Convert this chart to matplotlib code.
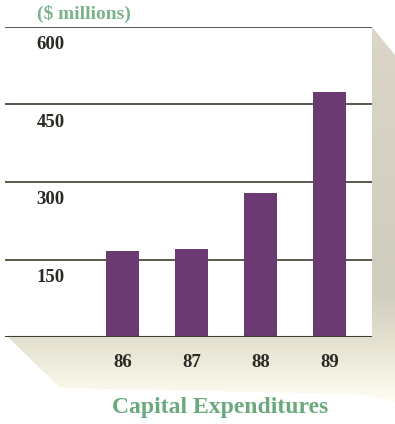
import numpy as np
import matplotlib
matplotlib.use("Agg")
import matplotlib.pyplot as plt
from matplotlib.patches import Polygon
from matplotlib.colors import LinearSegmentedColormap

years = ["86", "87", "88", "89"]
capex = [167, 170, 278, 474]
yticks = [150, 300, 450, 600]

W, H = 395, 424
fig = plt.figure(figsize=(W / 100, H / 100), dpi=100)
fig.patch.set_facecolor("white")

# background layer in pixel coordinates for the drop shadow
bg = fig.add_axes([0, 0, 1, 1])
bg.set_xlim(0, W)
bg.set_ylim(H, 0)
bg.axis("off")

shade = LinearSegmentedColormap.from_list(
    "shade", [(0.0, "#dbd6c7"), (0.7, "#cfccc0"), (0.84, "#e4e1d0"), (1.0, "#fffdf2")])
grad = np.linspace(0, 1, 256).reshape(-1, 1)
img = bg.imshow(grad, cmap=shade, extent=(0, W, 402, 27), aspect="auto", zorder=1)
shadow = Polygon([(8, 337), (372, 337), (372, 27), (395, 55), (395, 402),
                  (360, 394), (60, 388)], closed=True, facecolor="none", edgecolor="none")
bg.add_patch(shadow)
img.set_clip_path(shadow)

# main chart
left, right = 5 / W, 372 / W
bottom, top = 1 - 337 / H, 1 - 27 / H
ax = fig.add_axes([left, bottom, right - left, top - bottom])
ax.set_facecolor("white")
x = np.arange(len(years))
ax.set_xlim(-1.703, 3.616)
ax.set_ylim(0, 600)

for v in yticks:
    ax.axhline(v, color="#4b4a3a", lw=1.3, zorder=1)
ax.axhline(0, color="#3d3d33", lw=1.5, zorder=3)

ax.bar(x, capex, width=0.478, color="#6b3a72", zorder=2)

for sp in ax.spines.values():
    sp.set_visible(False)
ax.set_xticks([])
ax.set_yticks([])

serif = ["Liberation Serif", "DejaVu Serif"]
for v in yticks:
    ax.text(-1.245, v - 34, str(v), ha="left", va="center", fontsize=13.5,
            fontweight="bold", family=serif, color="#2a2a24")
for xi, lab in zip(x, years):
    ax.text(xi, -50, lab, ha="center", va="center", fontsize=13.5,
            fontweight="bold", family=serif, color="#2a2a24", clip_on=False)

fig.text(37 / W, 1 - 14 / H, "($ millions)", ha="left", va="center", fontsize=14,
         fontweight="bold", family=serif, color="#7bb28a")
fig.text(220 / W, 1 - 408 / H, "Capital Expenditures", ha="center", va="center",
         fontsize=17, fontweight="bold", family=serif, color="#6aa97c")

fig.savefig("out.png", dpi=100)
